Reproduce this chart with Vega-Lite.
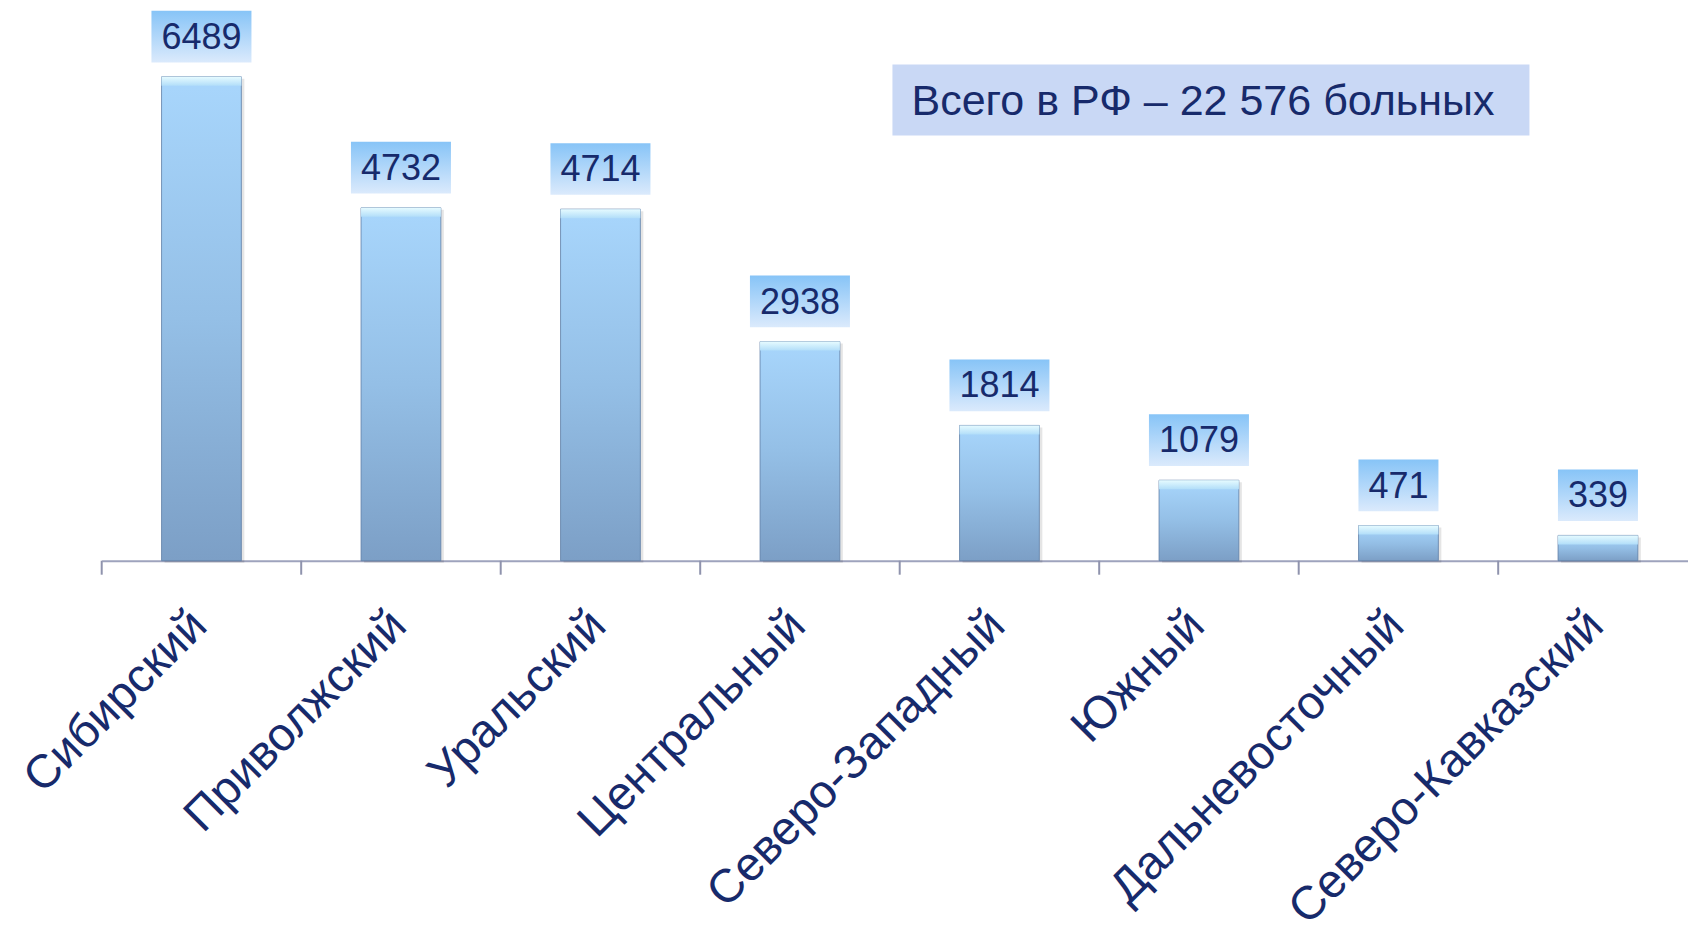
{
  "$schema": "https://vega.github.io/schema/vega-lite/v6.json",
  "width": 1596,
  "height": 522,
  "autosize": {"type": "none"},
  "padding": {"left": 101.7, "top": 38.7, "right": -9.7, "bottom": 373.3},
  "background": "white",
  "config": {"view": {"stroke": null}, "font": "Liberation Sans"},
  "data": {
    "values": [
      {"region": "Сибирский", "value": 6489},
      {"region": "Приволжский", "value": 4732},
      {"region": "Уральский", "value": 4714},
      {"region": "Центральный", "value": 2938},
      {"region": "Северо-Западный", "value": 1814},
      {"region": "Южный", "value": 1079},
      {"region": "Дальневосточный", "value": 471},
      {"region": "Северо-Кавказский", "value": 339}
    ]
  },
  "encoding": {
    "x": {
      "field": "region",
      "type": "nominal",
      "sort": null,
      "scale": {"paddingInner": 0.6, "paddingOuter": 0.3},
      "axis": {
        "title": null,
        "labelAngle": -45,
        "labelAlign": "right",
        "labelBaseline": "middle",
        "labelFontSize": 47,
        "labelColor": "#172a6b",
        "labelFont": "Liberation Sans",
        "labelPadding": 57,
        "labelOffset": -2,
        "labelLimit": 1000,
        "ticks": false,
        "tickSize": 0,
        "domainColor": "#9ea3bd",
        "domainWidth": 2
      }
    },
    "y": {
      "field": "value",
      "type": "quantitative",
      "scale": {"domain": [0, 7000]},
      "axis": null
    }
  },
  "layer": [
    {
      "mark": {"type": "bar", "fill": "#000000", "opacity": 0.1, "xOffset": 3, "yOffset": 2}
    },
    {
      "mark": {
        "type": "bar",
        "fill": {
          "gradient": "linear", "x1": 0, "y1": 0, "x2": 0, "y2": 1,
          "stops": [
            {"offset": 0, "color": "#a8d6fc"},
            {"offset": 0.5, "color": "#94bfe6"},
            {"offset": 1, "color": "#7c9fc6"}
          ]
        },
        "stroke": "#5f7ea6",
        "strokeWidth": 1,
        "strokeOpacity": 0.8
      }
    },
    {
      "mark": {
        "type": "bar",
        "y2Offset": 9,
        "fill": {
          "gradient": "linear", "x1": 0, "y1": 0, "x2": 0, "y2": 1,
          "stops": [
            {"offset": 0, "color": "#e6fbff"},
            {"offset": 1, "color": "#b2def9"}
          ]
        }
      },
      "encoding": {"y2": {"field": "value"}}
    },
    {
      "transform": [{"filter": "datum.value >= 1000"}],
      "mark": {
        "type": "bar",
        "width": 100,
        "yOffset": -66,
        "y2Offset": -14.3,
        "fill": {
          "gradient": "linear", "x1": 0, "y1": 0, "x2": 0, "y2": 1,
          "stops": [
            {"offset": 0, "color": "#87c4f7"},
            {"offset": 1, "color": "#dbeafc"}
          ]
        }
      },
      "encoding": {"y2": {"field": "value"}}
    },
    {
      "transform": [{"filter": "datum.value < 1000"}],
      "mark": {
        "type": "bar",
        "width": 80,
        "yOffset": -66,
        "y2Offset": -14.3,
        "fill": {
          "gradient": "linear", "x1": 0, "y1": 0, "x2": 0, "y2": 1,
          "stops": [
            {"offset": 0, "color": "#87c4f7"},
            {"offset": 1, "color": "#dbeafc"}
          ]
        }
      },
      "encoding": {"y2": {"field": "value"}}
    },
    {
      "mark": {
        "type": "text",
        "yOffset": -39,
        "baseline": "middle",
        "align": "center",
        "fontSize": 36,
        "font": "Liberation Sans",
        "color": "#172a6b"
      },
      "encoding": {"text": {"field": "value", "type": "quantitative", "format": "d"}}
    },
    {
      "mark": {"type": "rule", "xOffset": -99.75, "y2Offset": 14, "color": "#8f93ad", "strokeWidth": 2},
      "encoding": {
        "y": {"datum": 0, "type": "quantitative"},
        "y2": {"datum": 0}
      }
    },
    {
      "transform": [{"filter": "datum.region === 'Южный'"}],
      "mark": {"type": "bar", "width": 637, "xOffset": 12, "fill": "#c9d8f5"},
      "encoding": {
        "y": {"datum": 6653, "type": "quantitative"},
        "y2": {"datum": 5701}
      }
    },
    {
      "transform": [{"filter": "datum.region === 'Южный'"}],
      "mark": {
        "type": "text",
        "text": "Всего в РФ – 22 576 больных",
        "xOffset": 4,
        "baseline": "middle",
        "align": "center",
        "fontSize": 43,
        "font": "Liberation Sans",
        "color": "#172a6b"
      },
      "encoding": {
        "y": {"datum": 6150, "type": "quantitative"}
      }
    }
  ]
}
